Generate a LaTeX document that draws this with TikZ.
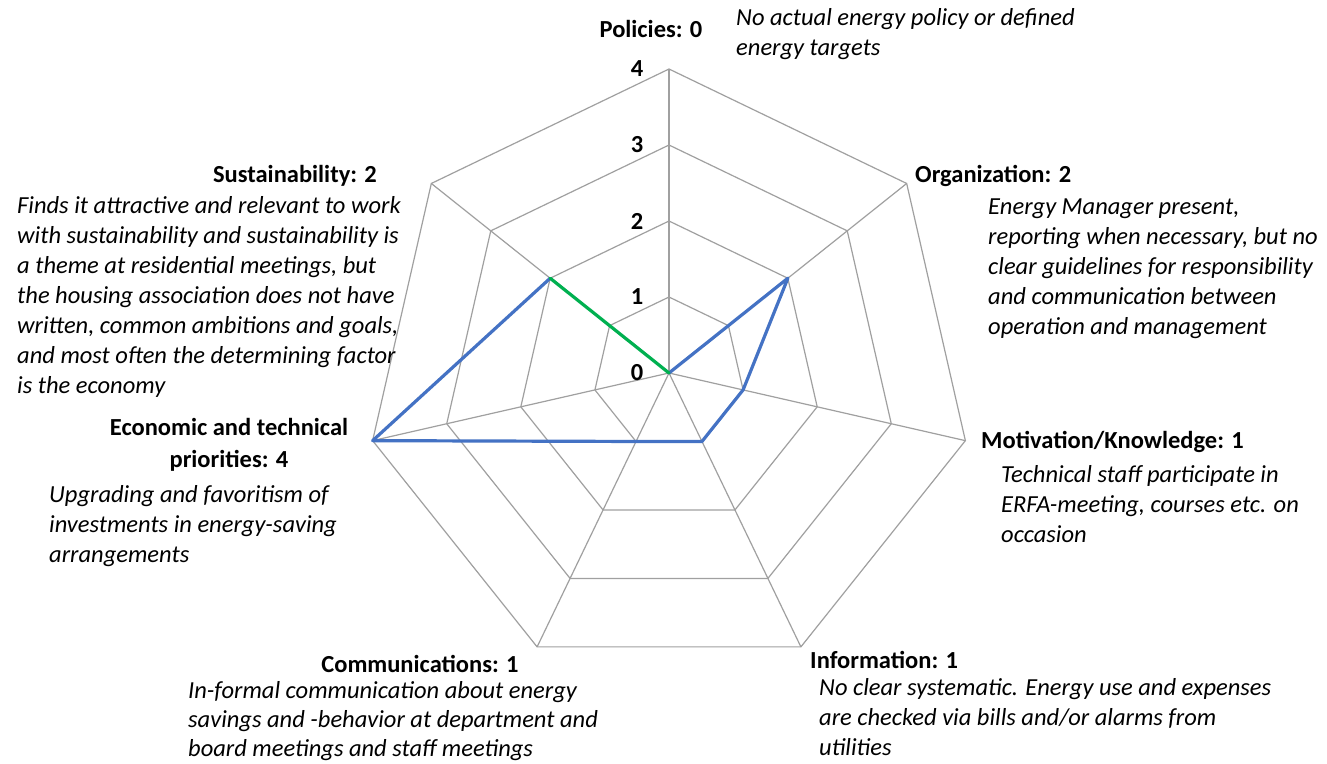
\documentclass[tikz,border=0pt]{standalone}
\usepackage{fontspec}
\setmainfont{Carlito}
\usetikzlibrary{calc}
\definecolor{gridgray}{RGB}{160,160,160}
\definecolor{serieblue}{RGB}{68,114,196}
\definecolor{seriegreen}{RGB}{0,176,80}
\begin{document}
\begin{tikzpicture}[x=1pt,y=1pt,
  grid/.style={draw=gridgray, line width=1.2pt, line join=miter},
  series/.style={draw=serieblue, line width=3.2pt, line join=round, line cap=round},
  closing/.style={draw=seriegreen, line width=3.2pt, line cap=round},
  title/.style={font=\fontsize{24.5}{30}\selectfont\bfseries, inner sep=0pt},
  desc/.style={font=\fontsize{24.5}{30}\selectfont\itshape, inner sep=0pt, align=left, anchor=base west},
  level/.style={font=\fontsize{24.5}{30}\selectfont\bfseries, inner sep=0pt},
]
\useasboundingbox[fill=white] (0,0) rectangle (1327,-763);
\coordinate (c) at (669,-373);
\foreach \i/\a in {1/90, 2/38.5714, 3/-12.8571, 4/-64.2857, 5/-115.7143, 6/-167.1429, 7/141.4286}{
  \foreach \l in {1,2,3,4}{
    \coordinate (p\i-\l) at ($(c)+(\a:{76*\l})$);
  }
}
% grid rings
\foreach \l in {1,2,3,4}{
  \draw[grid] (p1-\l) -- (p2-\l) -- (p3-\l) -- (p4-\l) -- (p5-\l) -- (p6-\l) -- (p7-\l) -- cycle;
}
% spokes
\foreach \i in {1,...,7}{
  \draw[grid] (c) -- (p\i-4);
}
% data series
\draw[series] (c) -- (p2-2) -- (p3-1) -- (p4-1) -- (p5-1) -- (p6-4) -- (p7-2);
\draw[closing] (p7-2) -- (c);
% level labels
\node[level] (lv0) at (637,-373) {0};
\node[level] (lv1) at (637,-297) {1};
\node[level] (lv2) at (637,-221) {2};
\node[level] (lv3) at (637,-145) {3};
\node[level] (lv4) at (637,-69) {4};
% titles and descriptions (desc anchored at the baseline of the last line)
\node[title, anchor=base] (tPol) at (651,-37) {Policies: 0};
\node[desc] (dPol) at (736,-55) {No actual energy policy or defined\\energy targets};
\node[title, anchor=base west] (tOrg) at (915,-182) {Organization: 2};
\node[desc] (dOrg) at (988,-334) {Energy Manager present,\\reporting when necessary, but no\\clear guidelines for responsibility\\and communication between\\operation and management};
\node[title, anchor=base west] (tMot) at (981,-448) {Motivation/Knowledge: 1};
\node[desc] (dMot) at (1001,-542) {Technical staff participate in\\ERFA-meeting, courses etc. on\\occasion};
\node[title, anchor=base west] (tInf) at (810,-668) {Information: 1};
\node[desc] (dInf) at (819,-755) {No clear systematic. Energy use and expenses\\are checked via bills and/or alarms from\\utilities};
\node[title, anchor=base] (tCom) at (420,-672) {Communications: 1};
\node[desc, font=\fontsize{24.5}{29}\selectfont\itshape] (dCom) at (188,-756) {In-formal communication about energy\\savings and -behavior at department and\\board meetings and staff meetings};
\node[title, anchor=base] (tEco1) at (229,-435) {Economic and technical};
\node[title, anchor=base] (tEco2) at (229,-467) {priorities: 4};
\node[desc] (dEco) at (49,-562) {Upgrading and favoritism of\\investments in energy-saving\\arrangements};
\node[title, anchor=base east] (tSus) at (377,-182) {Sustainability: 2};
\node[desc] (dSus) at (17,-393) {Finds it attractive and relevant to work\\with sustainability and sustainability is\\a theme at residential meetings, but\\the housing association does not have\\written, common ambitions and goals,\\and most often the determining factor\\is the economy};
\end{tikzpicture}
\end{document}
